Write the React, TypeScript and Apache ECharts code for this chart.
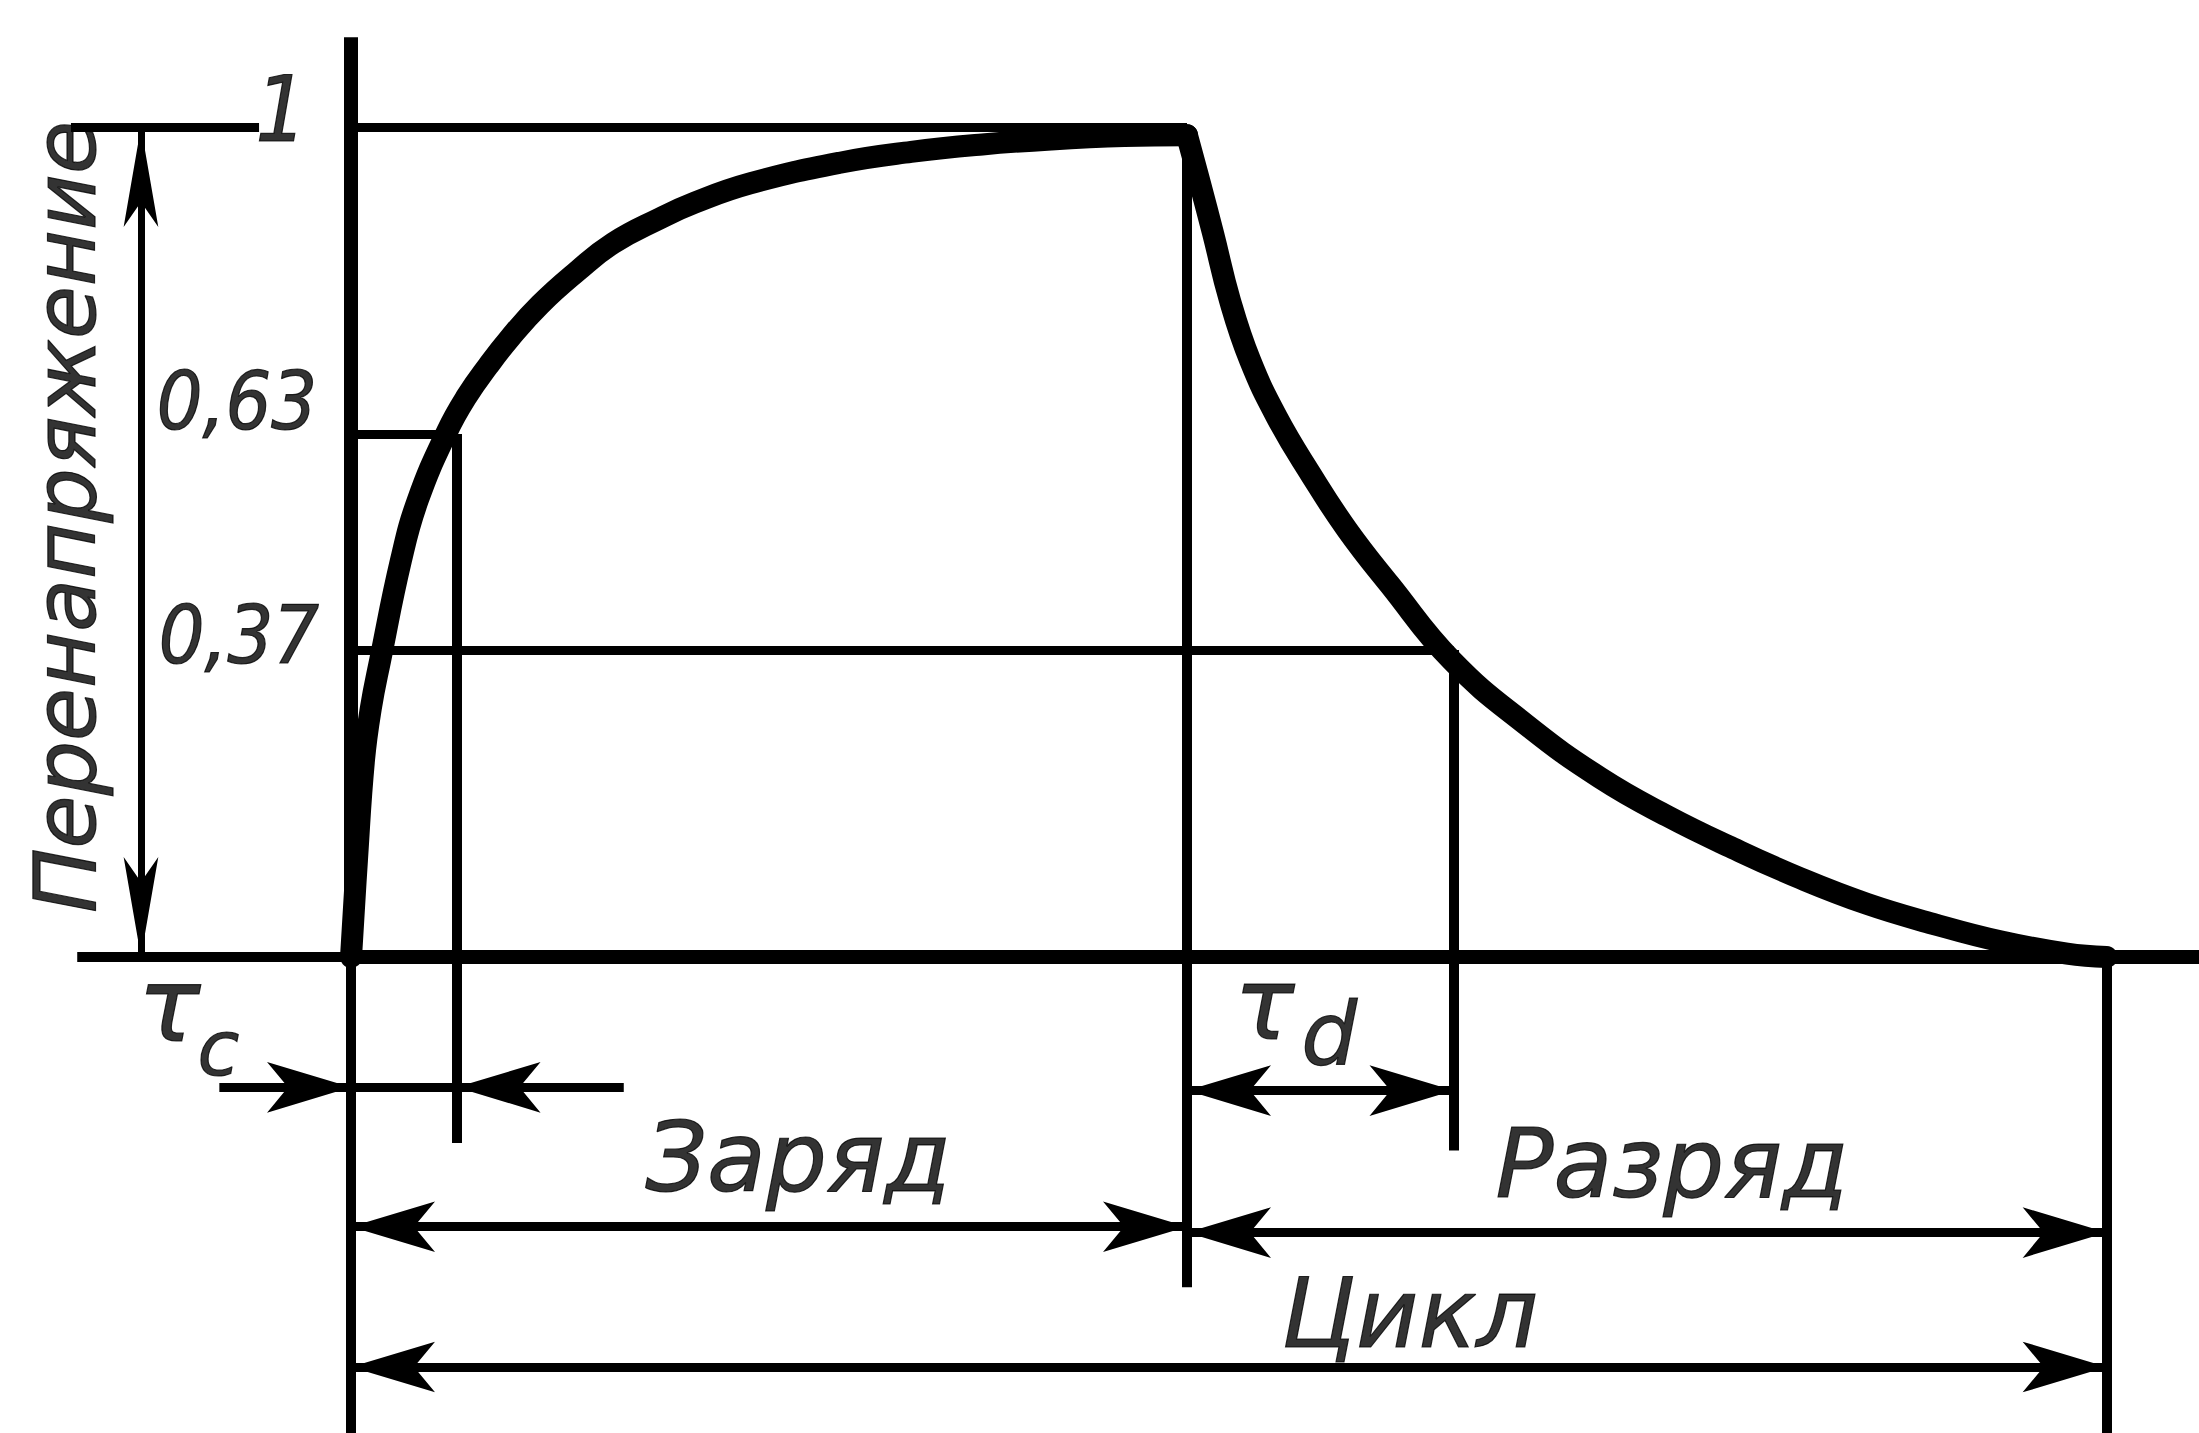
import React, { useEffect, useRef } from "react";
import * as echarts from "echarts";

// ---- Data (time in arbitrary units, overvoltage relative to 1) ----
const CHARGE_T = [0, 0.057, 0.124, 0.19, 0.278, 0.478, 0.641, 0.919, 1.11, 1.311, 1.522, 1.809, 2.163, 2.507, 2.957, 3.292, 3.818, 4.679, 5.36, 6.04, 6.7, 7.4, 8.0];
const CHARGE_U = [0, 0.117, 0.237, 0.3, 0.357, 0.478, 0.551, 0.633, 0.676, 0.712, 0.746, 0.786, 0.826, 0.86, 0.89, 0.909, 0.932, 0.957, 0.97, 0.979, 0.985, 0.989, 0.99];
const DISCHARGE_T = [8.0, 8.124, 8.249, 8.411, 8.603, 8.861, 9.177, 9.531, 9.943, 10.536, 11.244, 11.952, 12.593, 13.225, 13.866, 14.507, 15.139, 15.78, 16.421, 16.8];
const DISCHARGE_U = [0.99, 0.932, 0.872, 0.791, 0.719, 0.65, 0.583, 0.515, 0.448, 0.357, 0.28, 0.216, 0.17, 0.131, 0.095, 0.064, 0.04, 0.019, 0.004, 0];

// key instants
const TAU_C = 1.01;
const T_CHARGE = 8.0;
const T_TAU_D = 10.55;
const T_CYCLE = 16.8;

// level ticks
const LEVEL_VALUES = [1, 0.63, 0.37];
const LEVEL_LABELS = ["1", "0,63", "0,37"];

// texts
const Y_LABEL = "Перенапряжение";
const DIM_LABELS = ["Заряд", "Разряд", "Цикл"];
const TAU_LABELS = ["τ", "c", "τ", "d"];

// ---- drawing geometry (data units) ----
const X_MIN = -3.359;
const X_MAX = 17.684;
const Y_MIN = -0.5735;
const Y_MAX = 1.153;

const Y_AXIS_TOP = 1.108;
const BASE_LEFT = -2.62;
const DIM_X = -2.01;
const EXT1 = [-2.68, -0.88];
const ROW_TAU_C = -0.157;
const ROW_TAU_D = -0.161;
const ROW_CHARGE = -0.325;
const ROW_DISCHARGE = -0.332;
const ROW_CYCLE = -0.494;
const TAU_C_TAILS = [-1.26, 2.61];
const BOTTOM_TAU_C = -0.224;
const BOTTOM_CHARGE = -0.398;
const BOTTOM_TAU_D = -0.233;

const TEXT_FONT = '"DejaVu Sans", "Noto Sans", sans-serif';
const NUM_FONT = '"Liberation Sans Narrow", "DejaVu Sans Condensed", "DejaVu Sans", sans-serif';

const ARROW_H = [38, 84];
const ARROW_V = [26, 100];

type Arrow = number[] | null;

function seg(x1: number, y1: number, x2: number, y2: number, width: number, fromArrow: Arrow = null, toArrow: Arrow = null) {
  return [
    {
      coord: [x1, y1],
      symbol: fromArrow ? "arrow" : "none",
      symbolSize: fromArrow || 1,
      lineStyle: { width, color: "#000", type: "solid" },
    },
    {
      coord: [x2, y2],
      symbol: toArrow ? "arrow" : "none",
      symbolSize: toArrow || 1,
    },
  ];
}

function textItem(x: number, y: number, text: string, label: any) {
  return {
    value: [x, y],
    label: {
      show: true,
      formatter: text,
      color: "#000",
      fontStyle: "italic",
      fontFamily: TEXT_FONT,
      textBorderColor: "#000",
      textBorderWidth: 1.2,
      position: "inside",
      align: "center",
      verticalAlign: "middle",
      ...label,
    },
  };
}

export default function App() {
  const ref = useRef<HTMLDivElement>(null);

  useEffect(() => {
    if (!ref.current) return;
    const chart = echarts.init(ref.current, null, { renderer: "svg" });

    const lines = [
      // y axis (thick above the baseline, thinner below)
      seg(0, Y_AXIS_TOP, 0, 0, 14),
      seg(0, 0, 0, Y_MIN, 10),
      // baseline
      seg(BASE_LEFT, 0, 0, 0, 10),
      seg(0, 0, X_MAX, 0, 14),
      // level lines
      seg(EXT1[0], LEVEL_VALUES[0], EXT1[1], LEVEL_VALUES[0], 9),
      seg(0, LEVEL_VALUES[0], T_CHARGE, LEVEL_VALUES[0], 9),
      seg(0, LEVEL_VALUES[1], TAU_C, LEVEL_VALUES[1], 9),
      seg(0, LEVEL_VALUES[2], T_TAU_D, LEVEL_VALUES[2], 9),
      // verticals
      seg(TAU_C, LEVEL_VALUES[1], TAU_C, BOTTOM_TAU_C, 10),
      seg(T_CHARGE, 0.99, T_CHARGE, BOTTOM_CHARGE, 10),
      seg(T_TAU_D, LEVEL_VALUES[2], T_TAU_D, BOTTOM_TAU_D, 10),
      seg(T_CYCLE, 0, T_CYCLE, Y_MIN, 10),
      // vertical dimension of the overvoltage
      seg(DIM_X, 0, DIM_X, 1, 7, ARROW_V, ARROW_V),
      // tau_c
      seg(TAU_C_TAILS[0], ROW_TAU_C, 0, ROW_TAU_C, 9, null, ARROW_H),
      seg(0, ROW_TAU_C, TAU_C, ROW_TAU_C, 9),
      seg(TAU_C_TAILS[1], ROW_TAU_C, TAU_C, ROW_TAU_C, 9, null, ARROW_H),
      // tau_d
      seg(T_CHARGE, ROW_TAU_D, T_TAU_D, ROW_TAU_D, 9, ARROW_H, ARROW_H),
      // charge / discharge / cycle
      seg(0, ROW_CHARGE, T_CHARGE, ROW_CHARGE, 9, ARROW_H, ARROW_H),
      seg(T_CHARGE, ROW_DISCHARGE, T_CYCLE, ROW_DISCHARGE, 9, ARROW_H, ARROW_H),
      seg(0, ROW_CYCLE, T_CYCLE, ROW_CYCLE, 9, ARROW_H, ARROW_H),
    ];

    const levelOffsets = [
      { distance: 44, offset: [0, -17], fontSize: 90 },
      { distance: 34, offset: [0, -33], fontSize: 80 },
      { distance: 32, offset: [0, -14], fontSize: 80 },
    ];

    const texts = [
      ...LEVEL_VALUES.map((v, i) =>
        textItem(0, v, LEVEL_LABELS[i], {
          position: "left",
          align: "right",
          fontFamily: NUM_FONT,
          ...levelOffsets[i],
        })
      ),
      textItem(-2.737, 0.53, Y_LABEL, { rotate: 90, fontSize: 86 }),
      textItem(4.28, -0.242, DIM_LABELS[0], { fontSize: 96 }),
      textItem(12.64, -0.25, DIM_LABELS[1], { fontSize: 96 }),
      textItem(10.13, -0.43, DIM_LABELS[2], { fontSize: 96 }),
      textItem(-1.74, -0.058, TAU_LABELS[0], { fontSize: 104 }),
      textItem(-1.27, -0.11, TAU_LABELS[1], { fontSize: 76 }),
      textItem(8.74, -0.057, TAU_LABELS[2], { fontSize: 100 }),
      textItem(9.36, -0.092, TAU_LABELS[3], { fontSize: 88 }),
    ];

    const curveStyle = { color: "#000", width: 22, cap: "round", join: "round" };

    chart.setOption({
      animation: false,
      backgroundColor: "#fff",
      grid: { left: 0, right: 0, top: 0, bottom: 0, containLabel: false },
      xAxis: { type: "value", min: X_MIN, max: X_MAX, show: false },
      yAxis: { type: "value", min: Y_MIN, max: Y_MAX, show: false },
      series: [
        {
          name: "Заряд",
          type: "line",
          data: CHARGE_T.map((t, i) => [t, CHARGE_U[i]]),
          showSymbol: false,
          symbol: "none",
          smooth: 0.45,
          lineStyle: curveStyle,
          silent: true,
          clip: false,
          z: 3,
          markLine: {
            silent: true,
            symbol: ["none", "none"],
            label: { show: false },
            emphasis: { disabled: true },
            lineStyle: { color: "#000", type: "solid", width: 9 },
            data: lines,
          },
        },
        {
          name: "Разряд",
          type: "line",
          data: DISCHARGE_T.map((t, i) => [t, DISCHARGE_U[i]]),
          showSymbol: false,
          symbol: "none",
          smooth: 0.45,
          lineStyle: curveStyle,
          silent: true,
          clip: false,
          z: 3,
        },
        {
          name: "texts",
          type: "scatter",
          symbolSize: 0,
          silent: true,
          clip: false,
          itemStyle: { color: "rgba(0,0,0,0)" },
          data: texts,
          z: 4,
        },
      ],
    });

    return () => chart.dispose();
  }, []);

  return (
    <div
      ref={ref}
      style={{ position: "fixed", left: 0, top: 0, width: 2199, height: 1433, background: "#fff" }}
    />
  );
}
